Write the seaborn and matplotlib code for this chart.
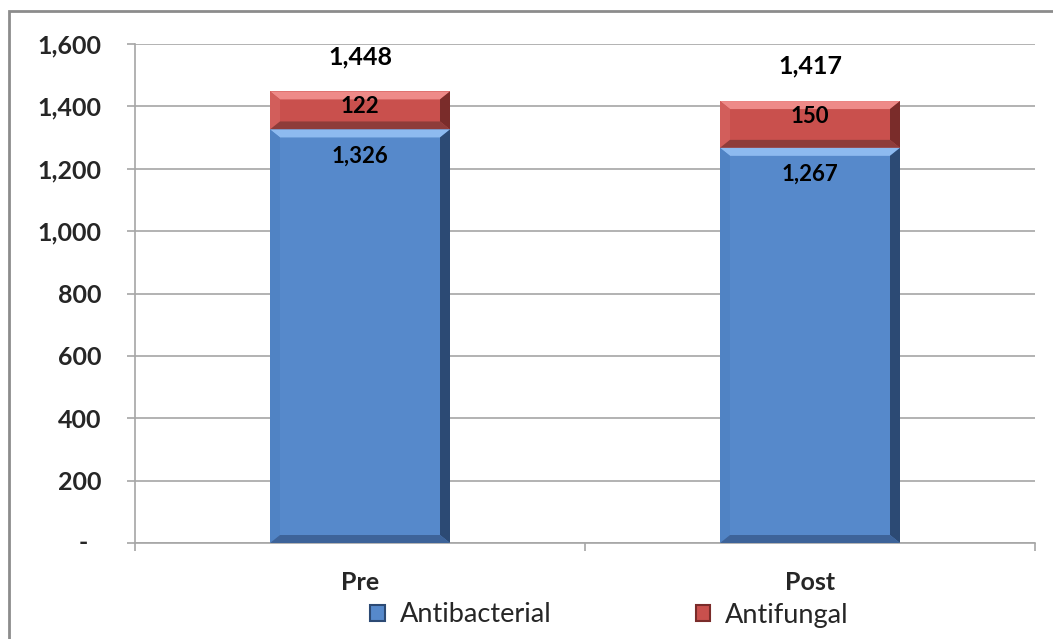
import matplotlib
matplotlib.use("Agg")
import matplotlib.pyplot as plt
import seaborn as sns
import pandas as pd
import numpy as np
from matplotlib.patches import Polygon, Rectangle, Patch
from matplotlib.ticker import FuncFormatter, FixedLocator

categories = ["Pre", "Post"]
antibacterial = [1326, 1267]
antifungal = [122, 150]
totals = [1448, 1417]
series_names = ["Antibacterial", "Antifungal"]
y_ticks = [0, 200, 400, 600, 800, 1000, 1200, 1400, 1600]

sns.set_theme(style="white")
plt.rcParams['font.family'] = ['Lato', 'DejaVu Sans']

BLUE = "#5689CB"
RED = "#C9504D"
BLUE_LIGHT = "#8DBAF0"
BLUE_SIDE = "#5083C4"
BLUE_DARK = "#2C4A74"
BLUE_BOTTOM = "#3D6399"
RED_LIGHT = "#EE8A88"
RED_SIDE = "#D25E5B"
RED_DARK = "#7A2C2A"
RED_BOTTOM = "#8E3C3A"

W, H = 1053, 639
fig = plt.figure(figsize=(W / 100, H / 100), dpi=100)
ax = fig.add_axes([135 / W, 1 - 543 / H, 900 / W, 499 / H])

df = pd.DataFrame({"cat": categories, "anti_b": antibacterial,
                   "anti_f": antifungal, "total": totals})

sns.barplot(data=df, x="cat", y="total", color=RED, width=0.4,
            saturation=1, ax=ax, linewidth=0)
sns.barplot(data=df, x="cat", y="anti_b", color=BLUE, width=0.4,
            saturation=1, ax=ax, linewidth=0)

ax.set_xlim(-0.5, 1.5)
ax.set_ylim(0, 1600)

red_bars = ax.patches[:2]
blue_bars = ax.patches[2:4]

# bevel sizes in data units (pixels converted)
px_x = 2.0 / 900.0
px_y = 1600.0 / 499.0
bx = 10 * px_x
by = 8 * px_y


def bevel(x0, x1, y0, y1, light, side, dark, bottom):
    ax.add_patch(Polygon([(x0, y1), (x1, y1), (x1 - bx, y1 - by), (x0 + bx, y1 - by)],
                         closed=True, facecolor=light, edgecolor="none", zorder=3))
    ax.add_patch(Polygon([(x0, y1), (x0 + bx, y1 - by), (x0 + bx, y0 + by), (x0, y0)],
                         closed=True, facecolor=side, edgecolor="none", zorder=3))
    ax.add_patch(Polygon([(x1, y1), (x1 - bx, y1 - by), (x1 - bx, y0 + by), (x1, y0)],
                         closed=True, facecolor=dark, edgecolor="none", zorder=3))
    ax.add_patch(Polygon([(x0, y0), (x1, y0), (x1 - bx, y0 + by), (x0 + bx, y0 + by)],
                         closed=True, facecolor=bottom, edgecolor="none", zorder=3))


for rb, bb in zip(red_bars, blue_bars):
    x0 = rb.get_x()
    x1 = x0 + rb.get_width()
    top = rb.get_height()
    mid = bb.get_height()
    bevel(x0, x1, mid, top, RED_LIGHT, RED_SIDE, RED_DARK, RED_BOTTOM)
    bevel(x0, x1, 0, mid, BLUE_LIGHT, BLUE_SIDE, BLUE_DARK, BLUE_BOTTOM)

# labels
for i, (ab, af, tot) in enumerate(zip(antibacterial, antifungal, totals)):
    ax.annotate(f"{tot:,}", (i, tot), xytext=(0, 25), textcoords="offset points",
                ha="center", va="center", fontsize=18, fontweight="bold", color="black", zorder=5)
    ax.annotate(f"{af:,}", (i, tot), xytext=(0, -11), textcoords="offset points",
                ha="center", va="center", fontsize=16, fontweight="bold", color="black", zorder=5)
    ax.annotate(f"{ab:,}", (i, ab), xytext=(0, -19), textcoords="offset points",
                ha="center", va="center", fontsize=16, fontweight="bold", color="black", zorder=5)

# grid & axes styling
ax.yaxis.set_major_locator(FixedLocator(y_ticks))
ax.yaxis.set_major_formatter(FuncFormatter(lambda v, p: "" if v == 0 else f"{int(v):,}"))
# accounting-style zero label
ax.annotate("-", xy=(0, 0), xycoords=("axes fraction", "data"), xytext=(-37, 0),
            textcoords="offset points", ha="center", va="center", fontsize=18,
            fontweight="bold", annotation_clip=False)
ax.grid(axis="y", color="#A6A6A6", linewidth=1.2, zorder=0)
ax.set_axisbelow(True)
for s in ["top", "right"]:
    ax.spines[s].set_visible(False)
for s in ["left", "bottom"]:
    ax.spines[s].set_color("#A6A6A6")
    ax.spines[s].set_linewidth(1.2)

ax.tick_params(axis="y", which="major", length=6, width=1.2, color="#A6A6A6",
               direction="out", pad=18, labelsize=18, left=True)
for lab in ax.get_yticklabels():
    lab.set_fontweight("bold")

ax.set_xticks([0, 1])
ax.set_xticklabels(categories, fontsize=18, fontweight="bold")
ax.set_xticks([-0.5, 0.5, 1.5], minor=True)
ax.tick_params(axis="x", which="major", length=0, pad=20)
ax.tick_params(axis="x", which="minor", length=6, width=1.2, color="#A6A6A6",
               direction="out", bottom=True)
ax.set_xlabel("")
ax.set_ylabel("")

# legend
handles = [Patch(facecolor=BLUE, edgecolor=BLUE_DARK, linewidth=1.5),
           Patch(facecolor=RED, edgecolor=RED_DARK, linewidth=1.5)]
fig.legend(handles, series_names, loc="center", bbox_to_anchor=(0.579, 1 - 615 / H),
           ncol=2, frameon=False, fontsize=19.5, handlelength=0.55, handleheight=0.55,
           handletextpad=0.55, columnspacing=5.3)

# outer frame
fig.patches.append(Rectangle((9 / W, -0.1), 1.2, 1 - 11 / H + 0.1, transform=fig.transFigure,
                             fill=False, edgecolor="#8C8C8C", linewidth=2, zorder=10))

fig.savefig("out.png", dpi=100)
